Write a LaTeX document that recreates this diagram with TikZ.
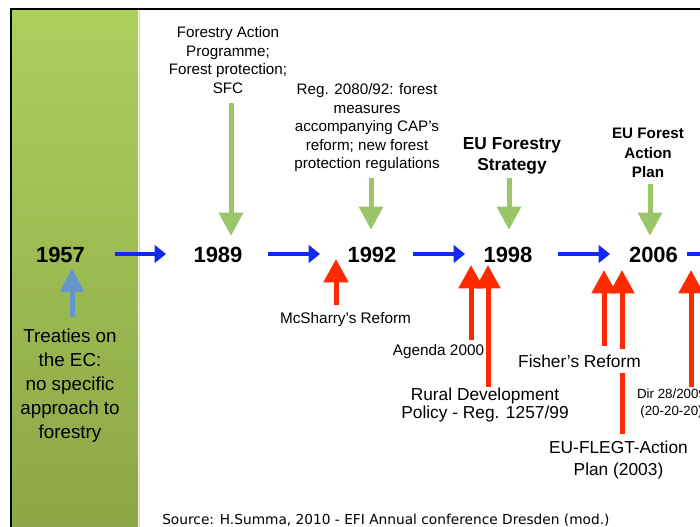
\documentclass[tikz,border=0pt]{standalone}
\usepackage{fontspec}
\setmainfont{Liberation Sans}
\newfontfamily\srcfont{DejaVu Sans}
\usetikzlibrary{arrows.meta}
\definecolor{gArrow}{RGB}{155,197,105}
\definecolor{rArrow}{RGB}{255,42,0}
\definecolor{bArrow}{RGB}{20,40,245}
\definecolor{sArrow}{RGB}{100,150,205}
\definecolor{panelTop}{RGB}{172,207,92}
\definecolor{panelBot}{RGB}{139,166,70}
\tikzset{
  px/.style={x=0.75pt,y=-0.75pt},
  yearlbl/.style={inner sep=0pt,font=\fontsize{16.5}{18}\selectfont\bfseries},
  toplbl/.style={inner sep=0pt,align=center,font=\fontsize{11.4}{13.9}\selectfont},
  boldlbl/.style={inner sep=0pt,align=center,font=\fontsize{13}{15.8}\selectfont\bfseries},
  boldsmall/.style={inner sep=0pt,align=center,font=\fontsize{11.4}{14.6}\selectfont\bfseries},
  midlbl/.style={inner sep=0pt,align=center,font=\fontsize{13}{12.8}\selectfont},
  bigmid/.style={inner sep=0pt,align=center,font=\fontsize{13}{16}\selectfont},
  smalllbl/.style={inner sep=0pt,align=center,font=\fontsize{11.5}{13}\selectfont},
  dirlbl/.style={inner sep=0pt,align=center,font=\fontsize{10}{12.75}\selectfont},
  treatylbl/.style={inner sep=0pt,align=center,font=\fontsize{14.1}{18}\selectfont},
  greenarr/.style={draw=gArrow,line width=3.75pt,-{Triangle[length=17.5pt,width=17.5pt]}},
  redarr/.style={draw=rArrow,line width=3.75pt,-{Triangle[length=17.5pt,width=18pt]}},
  steelarr/.style={draw=sArrow,line width=3.75pt,-{Triangle[length=18pt,width=17.5pt]}},
  bluearr/.style={draw=bArrow,line width=2.3pt,-{Triangle[length=8.5pt,width=13pt]}},
}
\begin{document}
\begin{tikzpicture}[px]
\useasboundingbox (0,0) rectangle (700,527);
\clip (0,0) rectangle (700,527);
% background panel
\shade[top color=panelTop,bottom color=panelBot] (12,10) rectangle (138,540);
\draw[black!18,line width=1.2pt] (139.5,10) -- (139.5,540);
% frame
\draw[black,line width=1.6pt] (11,540) -- (11,9) -- (720,9);

% years
\node[yearlbl] (y1957) at (60.5,255) {1957};
\node[yearlbl] (y1989) at (218,255) {1989};
\node[yearlbl] (y1992) at (372,255) {1992};
\node[yearlbl] (y1998) at (508,255) {1998};
\node[yearlbl] (y2006) at (653.5,255) {2006};

% blue arrows
\coordinate (b1s) at (115,254); \coordinate (b1e) at (166,254);
\coordinate (b2s) at (268,254); \coordinate (b2e) at (320,254);
\coordinate (b3s) at (413,254); \coordinate (b3e) at (465,254);
\coordinate (b4s) at (558,254); \coordinate (b4e) at (610,254);
\coordinate (b5s) at (687,254); \coordinate (b5e) at (740,254);
\draw[bluearr] (b1s) -- (b1e);
\draw[bluearr] (b2s) -- (b2e);
\draw[bluearr] (b3s) -- (b3e);
\draw[bluearr] (b4s) -- (b4e);
\draw[bluearr] (b5s) -- (b5e);

% top labels
\node[toplbl] (lFAP) at (228,60) {Forestry Action\\Programme;\\Forest protection;\\SFC};
\node[toplbl] (lReg) at (367,128) {Reg. 2080/92: forest\\measures\\accompanying CAP’s\\reform; new forest\\protection regulations};
\node[boldlbl] (lEFS) at (512,156) {EU Forestry\\Strategy};
\node[boldsmall] (lEFAP) at (648,153) {EU Forest\\Action\\Plan};

% green arrows
\coordinate (g1s) at (231,103); \coordinate (g1e) at (231,236);
\coordinate (g2s) at (371,178); \coordinate (g2e) at (371,230);
\coordinate (g3s) at (509,178); \coordinate (g3e) at (509,230);
\coordinate (g4s) at (650,184); \coordinate (g4e) at (650,236);
\draw[greenarr] (g1s) -- (g1e);
\draw[greenarr] (g2s) -- (g2e);
\draw[greenarr] (g3s) -- (g3e);
\draw[greenarr] (g4s) -- (g4e);

% treaties
\coordinate (s1s) at (72,317); \coordinate (s1e) at (72,268);
\draw[steelarr] (s1s) -- (s1e);
\node[treatylbl] (lTreat) at (70,386) {Treaties on\\the EC:\\no specific\\approach to\\forestry};

% red arrows
\coordinate (r1s) at (336,305); \coordinate (r1e) at (336,259);
\coordinate (r2s) at (471,340); \coordinate (r2e) at (471,265);
\coordinate (r3s) at (488,387); \coordinate (r3e) at (488,265);
\coordinate (r4s) at (604,346); \coordinate (r4e) at (604,270);
\coordinate (r5s) at (622,434); \coordinate (r5e) at (622,270);
\coordinate (r6s) at (691,387); \coordinate (r6e) at (691,270);
\draw[redarr] (r1s) -- (r1e);
\draw[redarr] (r2s) -- (r2e);
\draw[redarr] (r3s) -- (r3e);
\draw[redarr] (r4s) -- (r4e);
\draw[redarr] (r5s) -- (r5e);
\draw[redarr] (r6s) -- (r6e);

% bottom labels
\node[smalllbl] (lMcS) at (345.5,320) {McSharry’s Reform};
\node[smalllbl] (lAg) at (438.5,352) {Agenda 2000};
\node[midlbl] (lRD) at (485,405) {Rural Development\\Policy - Reg. 1257/99};
\node[bigmid,fill=white,inner ysep=4pt,inner xsep=1pt] (lFish) at (579.5,361) {Fisher’s Reform};
\node[bigmid] (lFLEGT) at (618.5,460) {EU-FLEGT-Action\\Plan (2003)};
\node[dirlbl] (lDir) at (671.5,404) {Dir 28/2009\\(20-20-20)};

% source
\node[anchor=base west,inner sep=0pt,font=\srcfont\fontsize{10.3}{12}\selectfont] (src) at (162,524) {Source: H.Summa, 2010 - EFI Annual conference Dresden (mod.)};
\end{tikzpicture}
\end{document}
